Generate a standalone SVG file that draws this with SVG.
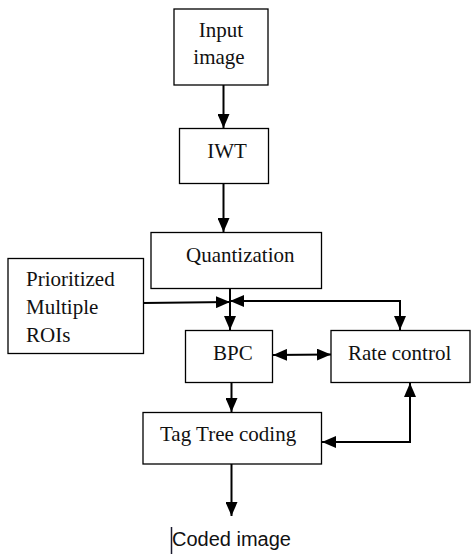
<svg xmlns="http://www.w3.org/2000/svg" width="471" height="554" viewBox="0 0 471 554">
<style>
.box{fill:#fff;stroke:#000;stroke-width:1.3}
.t{font-family:"Liberation Serif","Times New Roman",serif;font-size:21px;fill:#111}
.s{font-family:"Liberation Sans",Arial,sans-serif;font-size:20px;fill:#111}
.c{fill:none;stroke:#000;stroke-width:2}
</style>
<defs>
<marker id="ah" viewBox="0 0 14 12" refX="14" refY="6" markerWidth="14" markerHeight="12" markerUnits="userSpaceOnUse" orient="auto-start-reverse">
<path d="M0,0 L14,6 L0,12 z" fill="#000"/>
</marker>
</defs>
<rect width="471" height="554" fill="#fff"/>
<g id="connectors">
<line class="c" x1="223.5" y1="85" x2="223.5" y2="128" marker-end="url(#ah)"/>
<line class="c" x1="223.5" y1="183" x2="223.5" y2="232" marker-end="url(#ah)"/>
<line class="c" x1="230" y1="288" x2="230" y2="330" marker-end="url(#ah)"/>
<line class="c" x1="143" y1="303" x2="230" y2="302" marker-end="url(#ah)"/>
<path class="c" d="M230,301 L400,301 L400,330" marker-start="url(#ah)" marker-end="url(#ah)"/>
<line class="c" x1="273" y1="355" x2="331" y2="354.5" marker-start="url(#ah)" marker-end="url(#ah)"/>
<line class="c" x1="231.5" y1="383" x2="231.5" y2="412" marker-end="url(#ah)"/>
<path class="c" d="M322,442 L410,442 L410,383" marker-start="url(#ah)" marker-end="url(#ah)"/>
<line class="c" x1="231.5" y1="464" x2="231.5" y2="516" marker-end="url(#ah)"/>
</g>
<g id="input-image">
<rect class="box" x="174" y="9" width="94" height="76"/>
<text class="t" x="221" y="37" text-anchor="middle">Input</text>
<text class="t" x="219" y="64" text-anchor="middle">image</text>
</g>
<g id="iwt">
<rect class="box" x="179.5" y="128.5" width="89" height="55"/>
<text class="t" x="227" y="158" text-anchor="middle">IWT</text>
</g>
<g id="quantization">
<rect class="box" x="151" y="232.5" width="170.5" height="56"/>
<text class="t" x="186" y="262">Quantization</text>
</g>
<g id="prioritized-rois">
<rect class="box" x="8" y="258.5" width="135.5" height="95"/>
<text class="t" x="26" y="286">Prioritized</text>
<text class="t" x="26" y="313.5">Multiple</text>
<text class="t" x="26" y="342">ROIs</text>
</g>
<g id="bpc">
<rect class="box" x="185.5" y="330.5" width="87" height="52"/>
<text class="t" x="213" y="360">BPC</text>
</g>
<g id="rate-control">
<rect class="box" x="331" y="330.5" width="139" height="52"/>
<text class="t" x="348" y="360">Rate control</text>
</g>
<g id="tag-tree-coding">
<rect class="box" x="143" y="412.5" width="178.5" height="51.5"/>
<text class="t" x="160" y="440.5">Tag Tree coding</text>
</g>
<g id="coded-image">
<line x1="171.5" y1="527" x2="171.5" y2="554" stroke="#1a1a2e" stroke-width="1.5"/>
<text class="s" x="172" y="546">Coded image</text>
</g>
</svg>
